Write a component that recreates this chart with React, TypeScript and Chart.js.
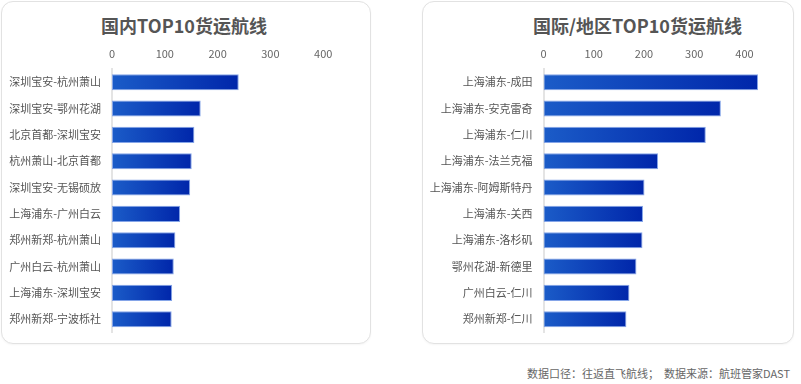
import React, { useEffect, useRef } from "react";
import { Chart, registerables } from "chart.js";

Chart.register(...registerables);

const domesticRoutes = [
  "深圳宝安-杭州萧山",
  "深圳宝安-鄂州花湖",
  "北京首都-深圳宝安",
  "杭州萧山-北京首都",
  "深圳宝安-无锡硕放",
  "上海浦东-广州白云",
  "郑州新郑-杭州萧山",
  "广州白云-杭州萧山",
  "上海浦东-深圳宝安",
  "郑州新郑-宁波栎社",
];
const domesticValues = [240, 168, 156, 151, 148, 129, 120, 117, 114, 113];

const intlRoutes = [
  "上海浦东-成田",
  "上海浦东-安克雷奇",
  "上海浦东-仁川",
  "上海浦东-法兰克福",
  "上海浦东-阿姆斯特丹",
  "上海浦东-关西",
  "上海浦东-洛杉矶",
  "鄂州花湖-新德里",
  "广州白云-仁川",
  "郑州新郑-仁川",
];
const intlValues = [427, 353, 323, 228, 201, 198, 197, 185, 171, 165];

const tickValues = [0, 100, 200, 300, 400];
const axisMax = 450;

const FONT = "'Noto Sans CJK SC', 'Noto Sans', sans-serif";

type PanelProps = {
  labels: string[];
  values: number[];
  yWidth: number;
  padRight: number;
  w: number;
  h: number;
};

function BarPanel({ labels, values, yWidth, padRight, w, h }: PanelProps) {
  const ref = useRef<HTMLCanvasElement | null>(null);
  useEffect(() => {
    const cv = ref.current;
    if (!cv) return;
    cv.width = w;
    cv.height = h;
    cv.style.width = w + "px";
    cv.style.height = h + "px";
    const chart = new Chart(cv, {
      type: "bar",
      data: {
        labels,
        datasets: [
          {
            data: values,
            backgroundColor: (ctx: any) => {
              const c = ctx.chart;
              const xs = c.scales && c.scales.x;
              if (!c.chartArea || !xs || ctx.raw == null) return "#1546b8";
              const x0 = xs.getPixelForValue(0);
              const x1 = xs.getPixelForValue(ctx.raw as number);
              if (!isFinite(x0) || !isFinite(x1) || x1 <= x0) return "#1546b8";
              const g = c.ctx.createLinearGradient(x0, 0, x1, 0);
              g.addColorStop(0, "#1b5cc8");
              g.addColorStop(1, "#0026aa");
              return g;
            },
            borderColor: "rgba(120,155,230,0.9)",
            borderWidth: 1,
            borderSkipped: false,
            barPercentage: 0.61,
            categoryPercentage: 1,
          },
        ],
      },
      options: {
        indexAxis: "y",
        animation: false,
        responsive: false,
        maintainAspectRatio: false,
        devicePixelRatio: 1,
        layout: { padding: { top: 0, bottom: 0, left: 0, right: padRight } },
        plugins: {
          legend: { display: false },
          tooltip: { enabled: false },
          title: { display: false },
        },
        scales: {
          x: {
            position: "top",
            min: 0,
            max: axisMax,
            afterBuildTicks: (scale: any) => {
              scale.ticks = tickValues.map((v) => ({ value: v }));
            },
            ticks: {
              font: { family: FONT, size: 11 },
              color: "#666666",
              padding: 9,
            },
            grid: { display: false, drawTicks: false },
            border: { display: false },
            afterFit: (scale: any) => {
              scale.height = 33;
            },
          },
          y: {
            ticks: {
              font: { family: FONT, size: 11 },
              color: "#555555",
              padding: 11,
            },
            grid: { display: false, drawTicks: false },
            border: { display: true, color: "#e4e4e4", width: 2 },
            afterFit: (scale: any) => {
              scale.width = yWidth;
            },
          },
        },
      } as any,
    });
    return () => chart.destroy();
  }, []);
  return <canvas ref={ref} style={{ display: "block" }} />;
}

const cardStyle: React.CSSProperties = {
  position: "absolute",
  border: "1px solid #e2e2e2",
  borderRadius: 12,
  boxSizing: "border-box",
  background: "#ffffff",
  boxShadow: "0 1px 2px rgba(0,0,0,0.04)",
};

const titleStyle: React.CSSProperties = {
  position: "absolute",
  fontFamily: FONT,
  fontWeight: 700,
  fontSize: 18,
  color: "#555555",
  whiteSpace: "nowrap",
  transform: "translate(-50%, -50%)",
  lineHeight: "22px",
};

export default function App() {
  return (
    <div
      style={{
        position: "fixed",
        left: 0,
        top: 0,
        width: 801,
        height: 384,
        background: "#ffffff",
        overflow: "hidden",
      }}
    >
      <div style={{ ...cardStyle, left: 1, top: 1, width: 370, height: 343 }} />
      <div style={{ ...cardStyle, left: 422, top: 1, width: 372, height: 343 }} />

      <div style={{ ...titleStyle, left: 184, top: 25 }}>国内TOP10货运航线</div>
      <div style={{ ...titleStyle, left: 637.5, top: 25 }}>国际/地区TOP10货运航线</div>

      <div style={{ position: "absolute", left: 1, top: 36 }}>
        <BarPanel labels={domesticRoutes} values={domesticValues} yWidth={111} padRight={20.4} w={369} h={314} />
      </div>
      <div style={{ position: "absolute", left: 422, top: 36 }}>
        <BarPanel labels={intlRoutes} values={intlValues} yWidth={121.5} padRight={23.4} w={371} h={314} />
      </div>

      <div
        style={{
          position: "absolute",
          right: 11,
          top: 366,
          fontFamily: FONT,
          fontSize: 11,
          color: "#666666",
          whiteSpace: "pre",
          lineHeight: "14px",
        }}
      >
        {"数据口径：往返直飞航线；  数据来源：航班管家DAST"}
      </div>
    </div>
  );
}
